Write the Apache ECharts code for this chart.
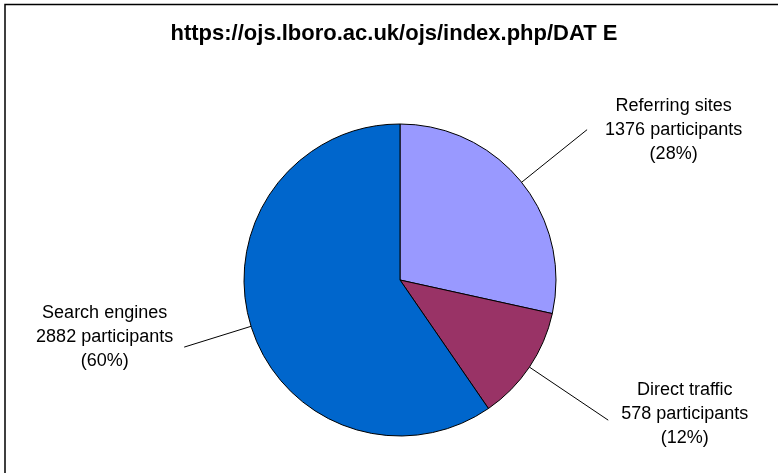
<!DOCTYPE html>
<html>
<head>
<meta charset="utf-8">
<script src="https://cdn.jsdelivr.net/npm/echarts@6/dist/echarts.min.js"></script>
<style>html,body{margin:0;padding:0;background:#fff;}#c{width:778px;height:473px;}</style>
</head>
<body>
<div id="c"></div>
<script>
const titleText = 'https://ojs.lboro.ac.uk/ojs/index.php/DAT E';
const categories = ['Referring sites', 'Direct traffic', 'Search engines'];
const values = [1376, 578, 2882];
const colors = ['#9999FF', '#993366', '#0066CC'];
const lineLengths = [84, 95, 70];
const labelGaps = [18, 13, 11];
const labelShiftY = [0, -6, -10];

const chart = echarts.init(document.getElementById('c'), null, {renderer: 'canvas'});
const font = 'Arial, "Liberation Sans", sans-serif';

chart.setOption({
  animation: false,
  backgroundColor: '#fff',
  title: {
    text: titleText,
    left: 394,
    textAlign: 'center',
    top: 23,
    padding: 0,
    textStyle: {fontFamily: font, fontSize: 22, fontWeight: 'bold', color: '#000'}
  },
  graphic: [{
    type: 'rect',
    shape: {x: 5, y: 4.5, width: 800, height: 500},
    style: {fill: 'none', stroke: '#000', lineWidth: 1.5},
    silent: true
  }],
  series: [{
    type: 'pie',
    center: [400, 280],
    radius: 156,
    startAngle: 90,
    clockwise: true,
    percentPrecision: 0,
    avoidLabelOverlap: false,
    emphasis: {disabled: true},
    itemStyle: {borderColor: '#000', borderWidth: 1},
    labelLine: {show: true, length2: 0, lineStyle: {color: '#000', width: 1}},
    label: {
      show: true,
      position: 'outside',
      alignTo: 'none',
      formatter: p => '{a|' + p.name + '}\n{a|' + p.value + ' participants}\n{a|(' + p.percent + '%)}',
      rich: {
        a: {fontFamily: font, fontSize: 18, lineHeight: 24, color: '#000', align: 'center'}
      }
    },
    labelLayout: p => ({dy: labelShiftY[p.dataIndex], labelLinePoints: p.labelLinePoints}),
    data: categories.map((c, i) => ({
      name: c,
      value: values[i],
      itemStyle: {color: colors[i]},
      labelLine: {length: lineLengths[i], length2: 0},
      label: {distanceToLabelLine: labelGaps[i]}
    }))
  }]
});
</script>
</body>
</html>
